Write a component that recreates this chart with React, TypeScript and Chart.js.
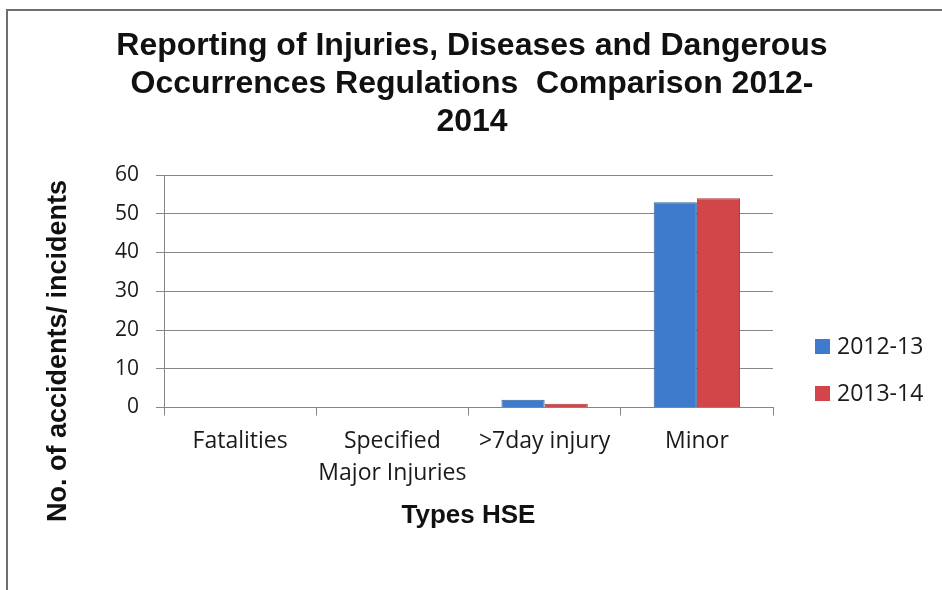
import React, { useEffect, useRef } from 'react';
import { Chart, registerables } from 'chart.js';

Chart.register(...registerables);

const categories: (string | string[])[] = ['Fatalities', ['Specified', 'Major Injuries'], '>7day injury', 'Minor'];
const series2012 = [0, 0, 2, 53];
const series2013 = [0, 0, 1, 54];
const seriesLabels = ['2012-13', '2013-14'];
const seriesColors = ['#3f7bcc', '#d2464a'];
const seriesBorders = ['#36629c', '#a83a3d'];
const yTicks = [0, 10, 20, 30, 40, 50, 60];
const titleLines = [
  'Reporting of Injuries, Diseases and Dangerous',
  'Occurrences Regulations  Comparison 2012-',
  '2014',
];
const yTitle = 'No. of accidents/ incidents';
const xTitle = 'Types HSE';

const decor = {
  id: 'decor',
  afterDraw(chart: any) {
    const { ctx, chartArea } = chart;
    ctx.save();
    // Title
    ctx.fillStyle = '#111';
    ctx.textAlign = 'center';
    ctx.textBaseline = 'alphabetic';
    ctx.font = 'bold 32px "Liberation Sans", Arial, sans-serif';
    titleLines.forEach((t, i) => ctx.fillText(t, 472, 55 + i * 38));
    // Y title
    ctx.save();
    ctx.translate(59, 351);
    ctx.rotate(-Math.PI / 2);
    ctx.textBaseline = 'middle';
    ctx.font = 'bold 27px "Liberation Sans", Arial, sans-serif';
    ctx.fillText(yTitle, 0, 0);
    ctx.restore();
    // Legend
    const lx = chartArea.right + 42;
    const ys = [chartArea.bottom - 61, chartArea.bottom - 14];
    ctx.font = '23px "Open Sans", sans-serif';
    ctx.textAlign = 'left';
    ctx.textBaseline = 'middle';
    seriesLabels.forEach((lab, i) => {
      ctx.fillStyle = seriesColors[i];
      ctx.fillRect(lx, ys[i] - 7.5, 15, 15);
      ctx.fillStyle = '#1a1a1a';
      ctx.fillText(lab, lx + 22, ys[i] + 1);
    });
    ctx.restore();
  },
};

export default function App() {
  const ref = useRef<HTMLCanvasElement>(null);
  useEffect(() => {
    if (!ref.current) return;
    const chart = new Chart(ref.current, {
      type: 'bar',
      data: {
        labels: categories as any,
        datasets: [
          { label: seriesLabels[0], data: series2012, backgroundColor: seriesColors[0], borderColor: seriesBorders[0], borderWidth: 1 },
          { label: seriesLabels[1], data: series2013, backgroundColor: seriesColors[1], borderColor: seriesBorders[1], borderWidth: 1 },
        ],
      },
      options: {
        responsive: false,
        animation: false,
        devicePixelRatio: 1,
        layout: { padding: { top: 175, right: 169, bottom: 0, left: 0 } },
        datasets: { bar: { categoryPercentage: 0.567, barPercentage: 1 } } as any,
        plugins: {
          legend: { display: false },
          title: { display: false },
          tooltip: { enabled: false },
        },
        scales: {
          x: {
            grid: { drawOnChartArea: false, drawTicks: true, tickLength: 8, color: '#868686', offset: true },
            border: { color: '#868686' },
            ticks: {
              font: { family: '"Open Sans", sans-serif', size: 23, lineHeight: 1.39 },
              color: '#1a1a1a',
              padding: 10,
              maxRotation: 0,
              autoSkip: false,
            },
            title: {
              display: true,
              text: xTitle,
              color: '#111',
              font: { family: '"Liberation Sans", Arial, sans-serif', weight: 'bold', size: 26 },
              padding: { top: 0, bottom: 59 },
            },
            afterFit: (s: any) => { s.height = 182.5; },
          },
          y: {
            min: 0,
            max: 60,
            afterBuildTicks: (s: any) => { s.ticks = yTicks.map((v) => ({ value: v })); },
            ticks: {
              font: { family: '"Open Sans", sans-serif', size: 21 },
              color: '#1a1a1a',
              padding: 17,
            },
            grid: { color: '#868686', tickLength: 8 },
            border: { color: '#868686' },
            afterFit: (s: any) => { s.width = 164; },
          },
        },
      },
      plugins: [decor],
    });
    return () => chart.destroy();
  }, []);

  return (
    <div style={{ position: 'fixed', left: 0, top: 0, width: 942, height: 590, background: '#fff', overflow: 'hidden' }}>
      <canvas ref={ref} width={942} height={590} style={{ display: 'block', width: 942, height: 590 }} />
      <div style={{ position: 'absolute', left: 6, top: 9, width: 960, height: 600, borderTop: '2px solid #6e6e6e', borderLeft: '2px solid #6e6e6e', pointerEvents: 'none' }} />
    </div>
  );
}
